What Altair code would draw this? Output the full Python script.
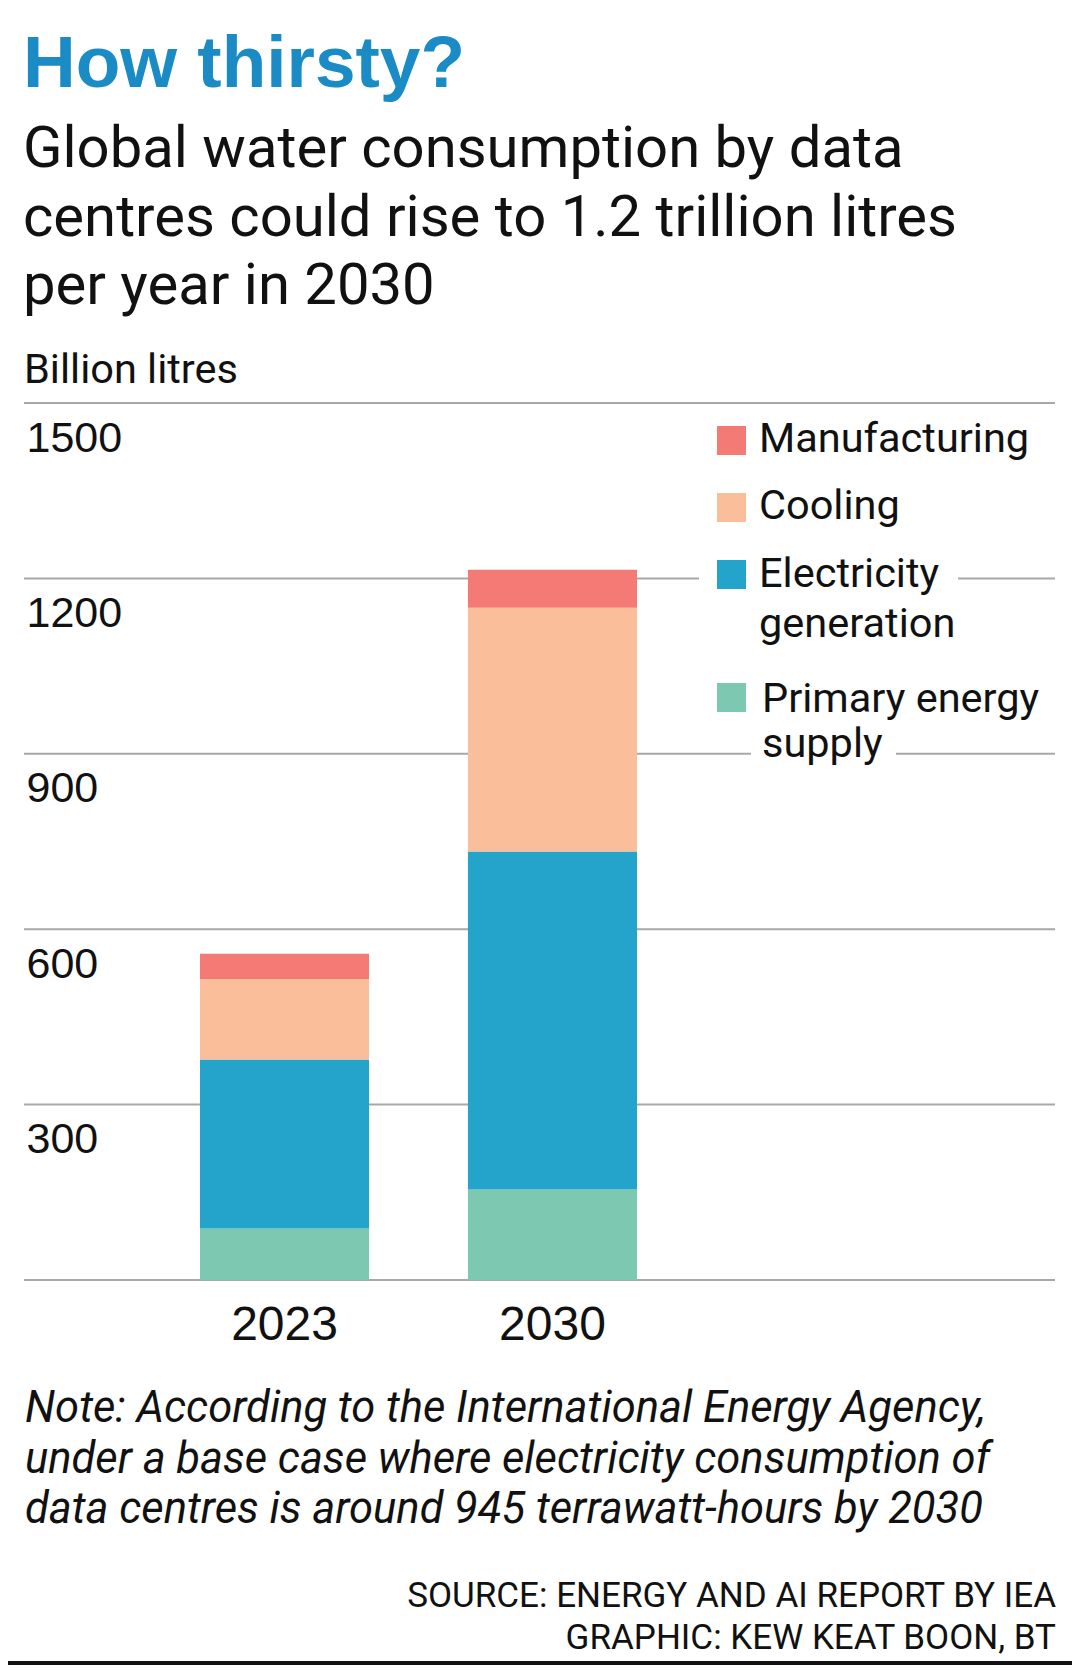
import altair as alt
import pandas as pd

# ---- data ----
years = ["2023", "2030"]
categories = ["Primary energy supply", "Electricity generation", "Cooling", "Manufacturing"]
primary = [88, 155]
electricity = [289, 578]
cooling = [138, 417]
manufacturing = [43, 65]
colors = ["#7cc8b0", "#24a3cb", "#fbbe9a", "#f47a75"]
y_ticks = [0, 300, 600, 900, 1200, 1500]

title_text = "How thirsty?"
subtitle_lines = ["Global water consumption by data",
                  "centres could rise to 1.2 trillion litres",
                  "per year in 2030"]
unit_text = "Billion litres"
note_lines = ["Note: According to the International Energy Agency,",
              "under a base case where electricity consumption of",
              "data centres is around 945 terrawatt-hours by 2030"]
source_lines = ["SOURCE: ENERGY AND AI REPORT BY IEA",
                "GRAPHIC: KEW KEAT BOON, BT"]
legend_labels = {"Manufacturing": ["Manufacturing"],
                 "Cooling": ["Cooling"],
                 "Electricity generation": ["Electricity", "generation"],
                 "Primary energy supply": ["Primary energy", "supply"]}

series = [primary, electricity, cooling, manufacturing]
rows = []
for i, yr in enumerate(years):
    for k, cat in enumerate(categories):
        rows.append({"year": yr, "category": cat, "value": series[k][i], "order": k})
df = pd.DataFrame(rows)
grid_df = pd.DataFrame({"tick": y_ticks})

color_scale = alt.Scale(domain=categories, range=colors)
y_scale = alt.Scale(domain=[0, 1500], nice=False)
TXT = "#111111"
SANS = "Roboto"
HELV = "Liberation Sans"
W, H = 1031, 877


def y_axis():
    return alt.Axis(title=None, values=y_ticks, format="d", grid=False,
                    domain=False, ticks=False, tickSize=0, labelAlign="left",
                    labelBaseline="alphabetic", labelPadding=-2, labelOffset=48,
                    labelFont=HELV, labelFontSize=43, labelColor=TXT,
                    labelOverlap=False,
                    labelExpr="datum.value == 0 ? '' : datum.label")


# horizontal gridlines spanning the full width
grid = alt.Chart(grid_df).mark_rule(color="#a8a8a8", strokeWidth=2).encode(
    y=alt.Y("tick:Q", scale=y_scale, axis=y_axis()),
    x=alt.value(0), x2=alt.value(W),
)

bars = alt.Chart(df).mark_bar().encode(
    x=alt.X("year:N",
            scale=alt.Scale(range=[176, 613], paddingInner=0.369, paddingOuter=0),
            axis=alt.Axis(title=None, domain=False, ticks=False, tickSize=0, grid=False,
                          labelAngle=0, labelPadding=21, labelFont=HELV, labelFontSize=48,
                          labelColor=TXT)),
    y=alt.Y("value:Q", stack="zero", scale=y_scale, axis=y_axis()),
    color=alt.Color("category:N", scale=color_scale, legend=None),
    order=alt.Order("order:Q"),
)


def one():
    return pd.DataFrame({"k": [0]})


def text_layer(lines, x, y, size, font=SANS, weight="normal", style="normal",
               align="left", color=TXT, line_height=None):
    kw = dict(align=align, baseline="alphabetic", font=font, fontSize=size,
              fontWeight=weight, fontStyle=style, color=color, lineBreak="\n")
    if line_height is not None:
        kw["lineHeight"] = line_height
    data = pd.DataFrame({"t": ["\n".join(lines)]})
    return alt.Chart(data).mark_text(**kw).encode(
        text="t:N", x=alt.value(x), y=alt.value(y))


def rect_layer(x, x2, y, y2, color):
    return alt.Chart(one()).mark_rect(color=color).encode(
        x=alt.value(x), x2=alt.value(x2), y=alt.value(y), y2=alt.value(y2))


layers = [grid, bars]

# masks that interrupt the gridlines behind legend text
layers.append(rect_layer(675, 934, 170, 182, "white"))
layers.append(rect_layer(727, 872, 345, 357, "white"))

# legend
leg_order = ["Manufacturing", "Cooling", "Electricity generation", "Primary energy supply"]
sym_y = [23, 90, 157, 280]
txt_base = [49, 116, 184, 309]
txt_x = [735, 735, 735, 738]
for cat, sy, ty, tx in zip(leg_order, sym_y, txt_base, txt_x):
    col = colors[categories.index(cat)]
    layers.append(rect_layer(693, 722, sy, sy + 29, col))
    layers.append(text_layer(legend_labels[cat], tx, ty, 41.5,
                             line_height=50 if cat.startswith("Elec") else 45))

# headline, subtitle, unit
layers.append(text_layer([title_text], -1, -316, 73, font=HELV, weight="bold",
                         color="#1a8bc4"))
layers.append(text_layer(subtitle_lines, -1, -236, 58, line_height=68.5))
layers.append(text_layer([unit_text], 0, -20, 41.5))

# note and source
layers.append(text_layer(note_lines, 1, 1019, 43.5, style="italic", line_height=50.5))
layers.append(text_layer(source_lines, 1032, 1204, 35, align="right", line_height=42))

# bottom rule
layers.append(alt.Chart(one()).mark_rule(color="#111111", strokeWidth=4).encode(
    x=alt.value(-16), x2=alt.value(1048), y=alt.value(1260)))

chart = alt.layer(*layers).properties(
    width=W, height=H,
    autosize=alt.AutoSizeParams(type="none"),
    padding={"left": 16, "top": 395, "right": 17, "bottom": 386},
    background="white",
).configure_view(stroke=None)

chart.save("out.html", embed_options={"renderer": "svg", "actions": False})
